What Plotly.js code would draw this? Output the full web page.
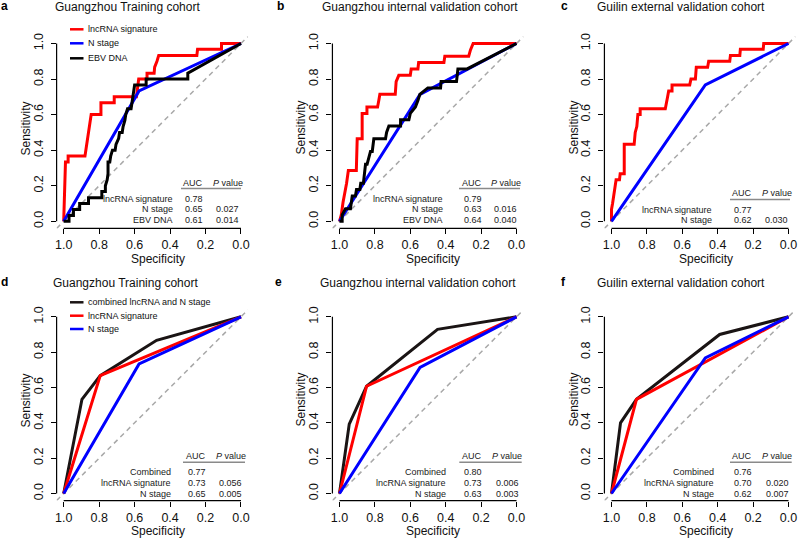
<!DOCTYPE html>
<html><head><meta charset="utf-8">
<script src="https://cdn.plot.ly/plotly-3.0.1.min.js"></script>
<style>html,body{margin:0;padding:0;background:#fff}#chart{width:799px;height:538px}</style>
</head><body><div id="chart"></div>
<script>
// ---------- data ----------
const tickVals = [1, 0.8, 0.6, 0.4, 0.2, 0];
const tickText = ['1.0', '0.8', '0.6', '0.4', '0.2', '0.0'];

const panelLetters = ['a', 'b', 'c', 'd', 'e', 'f'];
const panelTitles = ['Guangzhou Training cohort', 'Guangzhou internal validation cohort', 'Guilin external validation cohort',
                     'Guangzhou Training cohort', 'Guangzhou internal validation cohort', 'Guilin external validation cohort'];

const legendTopNames = ['lncRNA signature', 'N stage', 'EBV DNA'];
const legendBottomNames = ['combined lncRNA and N stage', 'lncRNA signature', 'N stage'];

// Panel a
const specA_lnc = [1, 0.995, 0.99, 0.975, 0.975, 0.88, 0.875, 0.87, 0.865, 0.86, 0.855, 0.85, 0.845, 0.79, 0.79, 0.715, 0.715, 0.59, 0.587, 0.58, 0.577, 0.53, 0.53, 0.49, 0.487, 0.474, 0.464, 0.249, 0.245, 0.11, 0.11, 0];
const sensA_lnc = [0, 0.167, 0.333, 0.333, 0.367, 0.367, 0.4, 0.433, 0.467, 0.5, 0.533, 0.567, 0.6, 0.6, 0.667, 0.667, 0.7, 0.7, 0.733, 0.767, 0.8, 0.8, 0.833, 0.833, 0.867, 0.9, 0.933, 0.933, 0.967, 0.967, 1, 1];
const specA_n = [1, 0.575, 0];
const sensA_n = [0, 0.733, 1];
const specA_ebv = [1, 0.97, 0.97, 0.945, 0.945, 0.91, 0.91, 0.86, 0.86, 0.785, 0.785, 0.765, 0.765, 0.755, 0.75, 0.75, 0.74, 0.735, 0.725, 0.71, 0.705, 0.69, 0.685, 0.67, 0.665, 0.655, 0.65, 0.64, 0.62, 0.615, 0.61, 0.605, 0.6, 0.535, 0.535, 0.3, 0.3, 0];
const sensA_ebv = [0, 0, 0.033, 0.033, 0.067, 0.067, 0.1, 0.1, 0.133, 0.133, 0.167, 0.167, 0.2, 0.233, 0.267, 0.333, 0.333, 0.367, 0.4, 0.4, 0.433, 0.467, 0.5, 0.5, 0.533, 0.567, 0.6, 0.633, 0.633, 0.667, 0.7, 0.733, 0.767, 0.767, 0.8, 0.8, 0.833, 1];

// Panel b
const specB_lnc = [1, 0.99, 0.98, 0.972, 0.96, 0.95, 0.905, 0.9, 0.872, 0.872, 0.845, 0.845, 0.785, 0.778, 0.772, 0.685, 0.68, 0.665, 0.6, 0.595, 0.557, 0.553, 0.41, 0.405, 0.27, 0.26, 0.245, 0];
const sensB_lnc = [0, 0.036, 0.107, 0.143, 0.214, 0.286, 0.286, 0.464, 0.464, 0.607, 0.607, 0.643, 0.643, 0.679, 0.714, 0.714, 0.786, 0.821, 0.821, 0.857, 0.857, 0.893, 0.893, 0.929, 0.929, 0.964, 1, 1];
const specB_n = [1, 0.545, 0];
const sensB_n = [0, 0.714, 1];
const specB_ebv = [1, 0.985, 0.985, 0.966, 0.938, 0.934, 0.928, 0.91, 0.904, 0.885, 0.88, 0.865, 0.86, 0.853, 0.844, 0.834, 0.825, 0.815, 0.806, 0.74, 0.734, 0.721, 0.655, 0.655, 0.608, 0.6, 0.571, 0.557, 0.546, 0.501, 0.429, 0.426, 0.339, 0.335, 0.331, 0.279, 0];
const sensB_ebv = [0, 0, 0.036, 0.071, 0.071, 0.107, 0.143, 0.143, 0.179, 0.179, 0.214, 0.214, 0.25, 0.321, 0.321, 0.357, 0.393, 0.393, 0.464, 0.464, 0.5, 0.536, 0.536, 0.571, 0.571, 0.607, 0.643, 0.679, 0.714, 0.75, 0.75, 0.786, 0.786, 0.821, 0.857, 0.857, 1];

// Panel c
const specC_lnc = [1, 1, 0.994, 0.989, 0.983, 0.974, 0.955, 0.951, 0.928, 0.928, 0.872, 0.866, 0.857, 0.851, 0.838, 0.838, 0.696, 0.691, 0.683, 0.677, 0.658, 0.658, 0.558, 0.551, 0.526, 0.521, 0.457, 0.451, 0.332, 0.328, 0.275, 0.272, 0.143, 0.14, 0];
const sensC_lnc = [0, 0.067, 0.1, 0.133, 0.167, 0.233, 0.233, 0.267, 0.267, 0.433, 0.433, 0.5, 0.533, 0.6, 0.6, 0.633, 0.633, 0.667, 0.7, 0.733, 0.733, 0.767, 0.767, 0.8, 0.8, 0.867, 0.867, 0.9, 0.9, 0.933, 0.933, 0.967, 0.967, 1, 1];
const specC_n = [1, 0.47, 0];
const sensC_n = [0, 0.767, 1];

// Panel d
const specD_comb = [1, 0.897, 0.794, 0.476, 0];
const sensD_comb = [0, 0.533, 0.667, 0.867, 1];
const specD_lnc = [1, 0.794, 0];
const sensD_lnc = [0, 0.667, 1];
const specD_n = [1, 0.575, 0];
const sensD_n = [0, 0.733, 1];

// Panel e
const specE_comb = [1, 0.945, 0.847, 0.446, 0];
const sensE_comb = [0, 0.393, 0.607, 0.929, 1];
const specE_lnc = [1, 0.847, 0];
const sensE_lnc = [0, 0.607, 1];
const specE_n = [1, 0.545, 0];
const sensE_n = [0, 0.714, 1];

// Panel f
const specF_comb = [1, 0.949, 0.859, 0.389, 0];
const sensF_comb = [0, 0.4, 0.533, 0.9, 1];
const specF_lnc = [1, 0.859, 0];
const sensF_lnc = [0, 0.533, 1];
const specF_n = [1, 0.47, 0];
const sensF_n = [0, 0.767, 1];

// AUC tables
const tabLabelsA = ['lncRNA signature', 'N stage', 'EBV DNA'];
const tabAucA = ['0.78', '0.65', '0.61'];
const tabPA = ['', '0.027', '0.014'];
const tabLabelsB = ['lncRNA signature', 'N stage', 'EBV DNA'];
const tabAucB = ['0.79', '0.63', '0.64'];
const tabPB = ['', '0.016', '0.040'];
const tabLabelsC = ['lncRNA signature', 'N stage'];
const tabAucC = ['0.77', '0.62'];
const tabPC = ['', '0.030'];
const tabLabelsD = ['Combined', 'lncRNA signature', 'N stage'];
const tabAucD = ['0.77', '0.73', '0.65'];
const tabPD = ['', '0.056', '0.005'];
const tabLabelsE = ['Combined', 'lncRNA signature', 'N stage'];
const tabAucE = ['0.80', '0.73', '0.63'];
const tabPE = ['', '0.006', '0.003'];
const tabLabelsF = ['Combined', 'lncRNA signature', 'N stage'];
const tabAucF = ['0.76', '0.70', '0.62'];
const tabPF = ['', '0.020', '0.007'];

// ---------- styling / layout ----------
const RED = '#ff0000', BLUE = '#0000ff', BLACK = '#000000', DBLACK = '#1a1414';
const FONT = 'Liberation Sans, Arial, Helvetica, sans-serif';
const W = 799, H = 538;
const px = x => x / W, py = y => 1 - y / H;

const colPix = [[63.7, 241], [339.5, 516.5], [611.5, 788.5]]; // pixel of spec=1 and spec=0
const rowPix = [[43.5, 221.3], [316.8, 493.5]];               // pixel of sens=1 and sens=0
function domX(c) { const s = c[1] - c[0]; return [px(c[0] - 0.04 * s), px(c[1] + 0.04 * s)]; }
function domY(r) { const s = r[1] - r[0]; return [py(r[1] + 0.04 * s), py(r[0] - 0.04 * s)]; }

const panelSeries = [
  [[specA_lnc, sensA_lnc, RED], [specA_n, sensA_n, BLUE], [specA_ebv, sensA_ebv, BLACK]],
  [[specB_lnc, sensB_lnc, RED], [specB_n, sensB_n, BLUE], [specB_ebv, sensB_ebv, BLACK]],
  [[specC_lnc, sensC_lnc, RED], [specC_n, sensC_n, BLUE]],
  [[specD_comb, sensD_comb, DBLACK], [specD_lnc, sensD_lnc, RED], [specD_n, sensD_n, BLUE]],
  [[specE_comb, sensE_comb, DBLACK], [specE_lnc, sensE_lnc, RED], [specE_n, sensE_n, BLUE]],
  [[specF_comb, sensF_comb, DBLACK], [specF_lnc, sensF_lnc, RED], [specF_n, sensF_n, BLUE]]
];

const layout = {
  width: W, height: H, margin: {l: 0, r: 0, t: 0, b: 0},
  paper_bgcolor: '#fff', plot_bgcolor: '#fff', showlegend: false,
  font: {family: FONT, color: '#000'},
  shapes: [], annotations: []
};
const data = [];

for (let p = 0; p < 6; p++) {
  const col = p % 3, row = Math.floor(p / 3);
  const n = p === 0 ? '' : String(p + 1);
  const xr = 'x' + n, yr = 'y' + n;
  layout['xaxis' + n] = {
    domain: domX(colPix[col]), range: [1.04, -0.04], anchor: yr,
    tickvals: tickVals, ticktext: tickText, ticks: 'outside', ticklen: 5, tickwidth: 1, tickcolor: '#000',
    showgrid: false, zeroline: false, showline: false, fixedrange: true,
    tickfont: {family: FONT, size: 12.5, color: '#111'}, ticklabelstandoff: 0
  };
  layout['yaxis' + n] = {
    domain: domY(rowPix[row]), range: [-0.04, 1.04], anchor: xr, tickangle: -90,
    tickvals: tickVals, ticktext: tickText, ticks: 'outside', ticklen: 5, tickwidth: 1, tickcolor: '#000',
    showgrid: false, zeroline: false, showline: false, fixedrange: true,
    tickfont: {family: FONT, size: 12.5, color: '#111'}, ticklabelstandoff: 3
  };
  // diagonal reference line (under curves)
  layout.shapes.push({type: 'line', xref: xr, yref: yr, x0: 1.04, y0: -0.04, x1: -0.04, y1: 1.04,
    line: {color: '#a8a8a8', width: 1.5, dash: '5px,4px'}, layer: 'below'});
  // axis lines spanning 1..0 only (R style)
  layout.shapes.push({type: 'line', xref: xr, yref: yr + ' domain', x0: 1, x1: 0, y0: 0, y1: 0, line: {color: '#000', width: 1.2}});
  layout.shapes.push({type: 'line', xref: xr + ' domain', yref: yr, x0: 0, x1: 0, y0: 0, y1: 1, line: {color: '#000', width: 1.2}});

  panelSeries[p].forEach(s => {
    data.push({type: 'scatter', mode: 'lines', x: s[0], y: s[1], xaxis: xr, yaxis: yr,
      line: {color: s[2], width: 3}, hoverinfo: 'skip', showlegend: false});
  });
}

// ---------- text ----------
function ann(x, y, text, opts) {
  layout.annotations.push(Object.assign({xref: 'paper', yref: 'paper', x: px(x), y: py(y), text: text,
    showarrow: false, xanchor: 'center', yanchor: 'middle', borderpad: 0,
    font: {family: FONT, size: 9, color: '#1a1a1a'}}, opts || {}));
}
const letterPos = [[0, 6], [276, 6], [560, 6], [0, 282], [274, 282], [560, 282]];
const titlePos = [[127.5, 6.5], [420, 6.5], [681, 6.5], [125, 282.5], [417.5, 282.5], [681, 282.5]];
for (let p = 0; p < 6; p++) {
  ann(letterPos[p][0], letterPos[p][1], '<b>' + panelLetters[p] + '</b>', {xanchor: 'left', font: {family: FONT, size: 12, color: '#000'}});
  ann(titlePos[p][0], titlePos[p][1], panelTitles[p], {font: {family: FONT, size: 12, color: '#111'}});
}
const specX = [158, 433, 706], specY = [259, 530.5];
const sensX = [25.5, 300.5, 573.5], sensY = [128, 400];
for (let p = 0; p < 6; p++) {
  const col = p % 3, row = Math.floor(p / 3);
  ann(specX[col], specY[row], 'Specificity', {font: {family: FONT, size: 12, color: '#111'}});
  ann(sensX[col], sensY[row], 'Sensitivity', {textangle: -90, font: {family: FONT, size: 12, color: '#111'}});
}

// legends (panels a and d)
function legend(names, colors, ys) {
  names.forEach((nm, i) => {
    layout.shapes.push({type: 'line', xref: 'paper', yref: 'paper', x0: px(70), x1: px(83.5), y0: py(ys[i]), y1: py(ys[i]),
      line: {color: colors[i], width: 2.5}});
    ann(87.3, ys[i], nm, {xanchor: 'left', font: {family: FONT, size: 9, color: '#111'}});
  });
}
legend(legendTopNames, [RED, BLUE, BLACK], [29.3, 43.3, 58.3]);
legend(legendBottomNames, [DBLACK, RED, BLUE], [302.3, 315.7, 329]);

// AUC tables
function table(labels, aucs, ps, g) {
  ann(g.auc, g.hy, 'AUC');
  ann(g.pv, g.hy, '<i>P</i> value');
  layout.shapes.push({type: 'line', xref: 'paper', yref: 'paper', x0: px(g.l0), x1: px(g.l1), y0: py(g.ly), y1: py(g.ly),
    line: {color: '#8a8a8a', width: 1.5}});
  labels.forEach((lb, i) => {
    ann(g.lr, g.rows[i], lb, {xanchor: 'right'});
    ann(g.auc + 1, g.rows[i], aucs[i]);
    if (ps[i]) ann(g.pv, g.rows[i], ps[i]);
  });
}
const rowsTop = [198.7, 209.3, 220], rowsBot = [472.3, 483, 494];
table(tabLabelsA, tabAucA, tabPA, {hy: 182.5, auc: 192.5, pv: 227.5, lr: 174, l0: 181, l1: 241, ly: 188.5, rows: rowsTop});
table(tabLabelsB, tabAucB, tabPB, {hy: 182.5, auc: 471.5, pv: 506, lr: 443.5, l0: 459, l1: 520, ly: 188.5, rows: rowsTop});
table(tabLabelsC, tabAucC, tabPC, {hy: 193, auc: 741.5, pv: 776.5, lr: 713.3, l0: 730, l1: 790, ly: 199.5, rows: [209.7, 220]});
table(tabLabelsD, tabAucD, tabPD, {hy: 456.3, auc: 195.5, pv: 230.8, lr: 171.7, l0: 183, l1: 245, ly: 462.3, rows: rowsBot});
table(tabLabelsE, tabAucE, tabPE, {hy: 456.3, auc: 471.7, pv: 507, lr: 446.7, l0: 459.3, l1: 521.7, ly: 462.3, rows: rowsBot});
table(tabLabelsF, tabAucF, tabPF, {hy: 456.3, auc: 741.5, pv: 777, lr: 715, l0: 730, l1: 791.7, ly: 462.3, rows: rowsBot});

Plotly.newPlot('chart', data, layout, {displayModeBar: false, staticPlot: true});
</script>
</body></html>
